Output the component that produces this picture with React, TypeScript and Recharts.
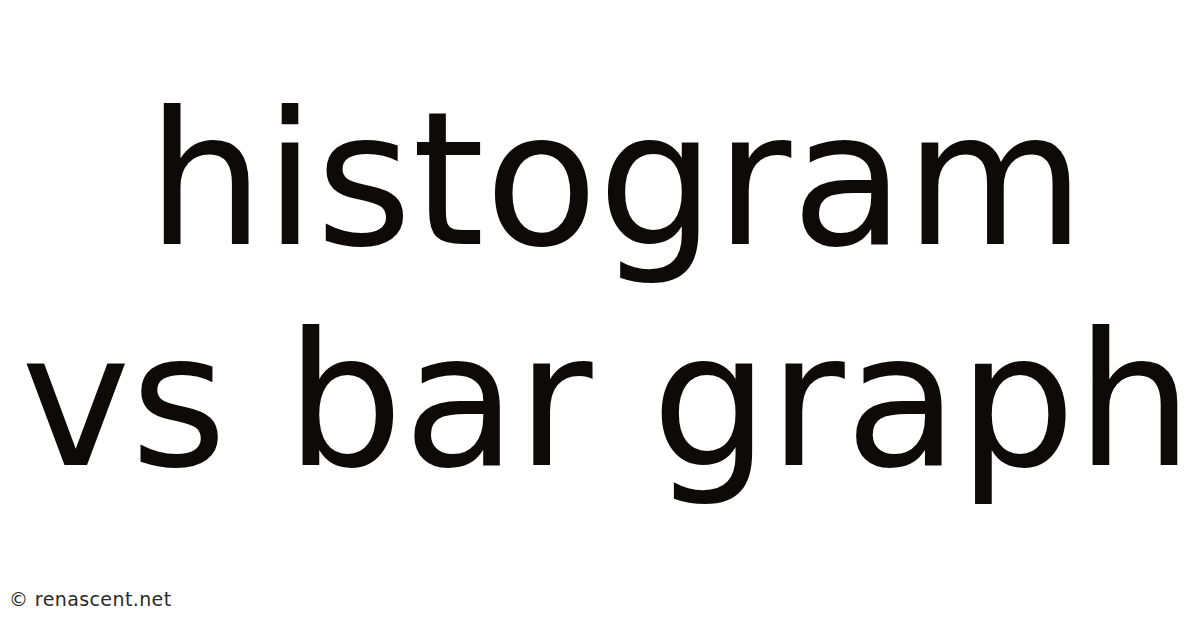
import React from 'react';
import { Surface, Text } from 'recharts';

const titleLines = ['histogram', 'vs bar graph'];
const titleCenters = [616, 607];
const titleBaselines = [244, 465];
const footerText = '© renascent.net';

export default function App() {
  return (
    <div style={{ position: 'absolute', left: 0, top: 0, width: 1200, height: 628, background: '#ffffff' }}>
      <Surface width={1200} height={628}>
        <rect x={0} y={0} width={1200} height={628} fill="#ffffff" />
        {titleLines.map((line, i) => (
          <Text
            key={line}
            x={titleCenters[i]}
            y={titleBaselines[i]}
            textAnchor="middle"
            verticalAnchor="end"
            fontFamily="DejaVu Sans"
            fontSize={185}
            fill="#0f0a0a"
          >
            {line}
          </Text>
        ))}
        <Text
          x={9}
          y={606}
          textAnchor="start"
          verticalAnchor="end"
          fontFamily="DejaVu Sans"
          fontSize={19}
          letterSpacing={0.4}
          fill="#2a2a2a"
        >
          {footerText}
        </Text>
      </Surface>
    </div>
  );
}
